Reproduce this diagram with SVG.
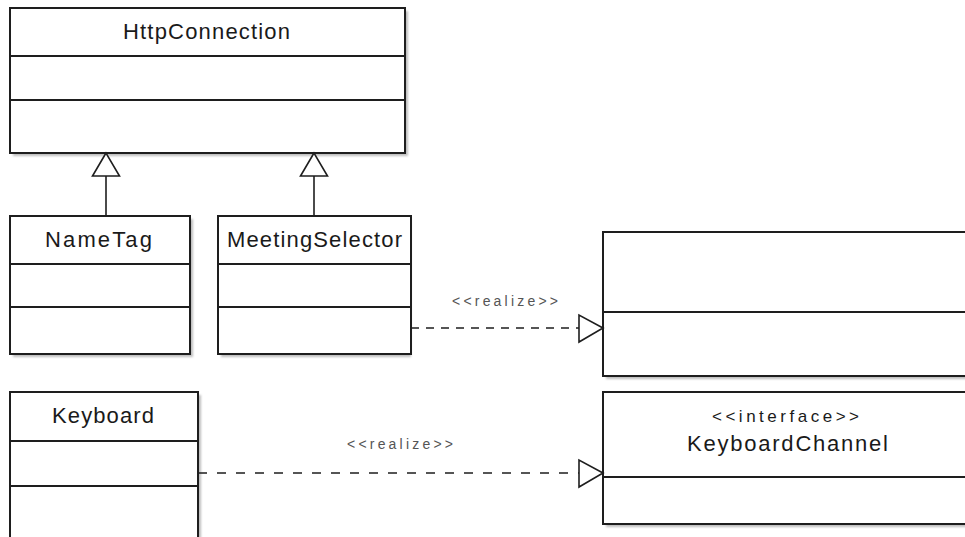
<svg xmlns="http://www.w3.org/2000/svg" width="965" height="537" viewBox="0 0 965 537">
  <style>
    .box { fill: #ffffff; stroke: #1e1e1e; stroke-width: 2; }
    .sep { stroke: #1e1e1e; stroke-width: 2; }
    .shadow { fill: #bdbdbd; filter: url(#soft); }
    .name { font-family: "Liberation Sans", Arial, sans-serif; font-size: 22px; fill: #1a1a1a; text-anchor: start; }
    .stereo { font-family: "Liberation Sans", Arial, sans-serif; font-size: 17px; fill: #1a1a1a; }
    .lbl { font-family: "Liberation Sans", Arial, sans-serif; font-size: 14px; fill: #555555; }
    .gen { stroke: #1e1e1e; stroke-width: 1.6; fill: none; }
    .real { stroke: #1e1e1e; stroke-width: 1.6; fill: none; }
    .head { fill: #ffffff; stroke: #1e1e1e; stroke-width: 1.6; }
  </style>
  <defs>
    <filter id="soft" x="-5%" y="-5%" width="110%" height="110%">
      <feGaussianBlur stdDeviation="1"/>
    </filter>
  </defs>

  <rect width="965" height="537" fill="#ffffff"/>

  <!-- HttpConnection -->
  <g id="httpconnection">
    <rect class="shadow" x="13" y="11" width="395" height="145"/>
    <rect class="box" x="10" y="8" width="395" height="145"/>
    <line class="sep" x1="10" y1="56" x2="405" y2="56"/>
    <line class="sep" x1="10" y1="100" x2="405" y2="100"/>
    <text class="name" x="123" y="39" textLength="167" lengthAdjust="spacing">HttpConnection</text>
  </g>

  <!-- NameTag -->
  <g id="nametag">
    <rect class="shadow" x="13" y="219" width="180" height="138"/>
    <rect class="box" x="10" y="216" width="180" height="138"/>
    <line class="sep" x1="10" y1="264" x2="190" y2="264"/>
    <line class="sep" x1="10" y1="307" x2="190" y2="307"/>
    <text class="name" x="45" y="247" textLength="107" lengthAdjust="spacing">NameTag</text>
  </g>

  <!-- MeetingSelector -->
  <g id="meetingselector">
    <rect class="shadow" x="221" y="219" width="190" height="138"/>
    <rect class="box" x="218" y="216" width="193" height="138"/>
    <line class="sep" x1="218" y1="264" x2="411" y2="264"/>
    <line class="sep" x1="218" y1="307" x2="411" y2="307"/>
    <text class="name" x="227" y="247" textLength="175" lengthAdjust="spacing">MeetingSelector</text>
  </g>

  <!-- unnamed class, top right -->
  <g id="realized-class">
    <rect class="shadow" x="606" y="235" width="370" height="144"/>
    <rect class="box" x="603" y="232" width="370" height="144"/>
    <line class="sep" x1="603" y1="312" x2="973" y2="312"/>
  </g>

  <!-- Keyboard -->
  <g id="keyboard">
    <rect class="shadow" x="13" y="395" width="188" height="160"/>
    <rect class="box" x="10" y="392" width="188" height="160"/>
    <line class="sep" x1="10" y1="441" x2="198" y2="441"/>
    <line class="sep" x1="10" y1="486" x2="198" y2="486"/>
    <text class="name" x="52" y="423" textLength="102" lengthAdjust="spacing">Keyboard</text>
  </g>

  <!-- KeyboardChannel interface -->
  <g id="keyboardchannel">
    <rect class="shadow" x="606" y="395" width="370" height="132"/>
    <rect class="box" x="603" y="392" width="370" height="132"/>
    <line class="sep" x1="603" y1="477" x2="973" y2="477"/>
    <text class="stereo" x="712" y="422" textLength="147" lengthAdjust="spacing">&lt;&lt;interface&gt;&gt;</text>
    <text class="name" x="687" y="451" textLength="201" lengthAdjust="spacing">KeyboardChannel</text>
  </g>

  <!-- connectors -->
  <g id="connectors">
    <!-- generalization: NameTag -> HttpConnection -->
    <line class="gen" x1="106" y1="176" x2="106" y2="216"/>
    <polygon class="head" points="106,153 92.5,176 119.5,176"/>
    <!-- generalization: MeetingSelector -> HttpConnection -->
    <line class="gen" x1="314" y1="176" x2="314" y2="216"/>
    <polygon class="head" points="314,153 300.5,176 327.5,176"/>

    <!-- realization: MeetingSelector -> top-right class -->
    <line class="real" x1="411" y1="328" x2="579" y2="328" stroke-dasharray="8 7"/>
    <polygon class="head" points="603,328 579,315 579,342"/>
    <text class="lbl" x="452" y="306" textLength="106" lengthAdjust="spacing">&lt;&lt;realize&gt;&gt;</text>

    <!-- realization: Keyboard -> KeyboardChannel -->
    <line class="real" x1="198" y1="473" x2="579" y2="473" stroke-dasharray="9 10"/>
    <polygon class="head" points="603,473 579,460 579,487"/>
    <text class="lbl" x="347" y="449" textLength="106" lengthAdjust="spacing">&lt;&lt;realize&gt;&gt;</text>
  </g>
</svg>
